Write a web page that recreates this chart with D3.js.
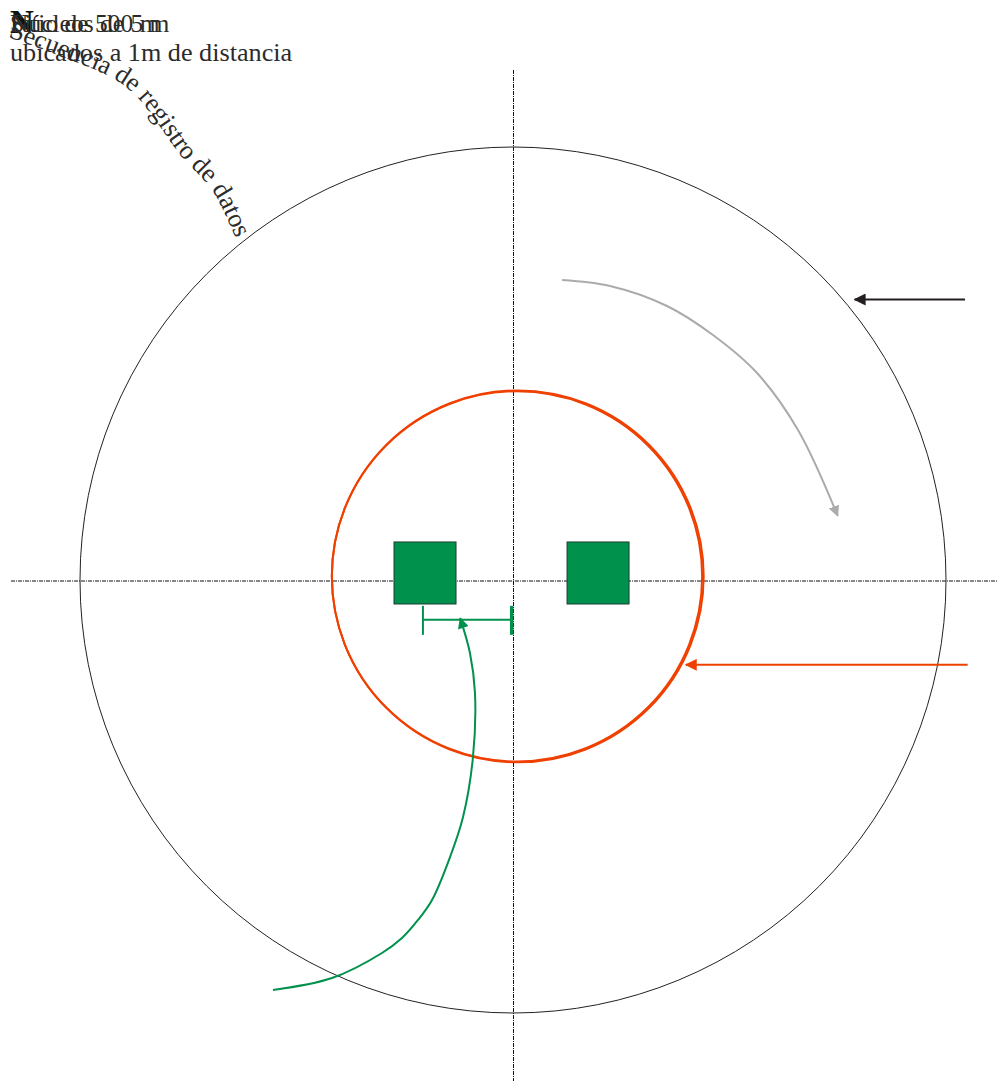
<!DOCTYPE html>
<html>
<head>
<meta charset="utf-8">
<script src="https://cdn.jsdelivr.net/npm/d3@7"></script>
<style>
  html, body { margin: 0; padding: 0; background: #fff; }
  svg { display: block; }
  text { font-family: "Liberation Serif", serif; fill: #2b2b2b; }
</style>
</head>
<body>
<svg id="chart" width="997" height="1081"></svg>
<script>
// Plot layout in metres, the centre of the site is 0,0

const outerRadius = 50;
const coreRings = [
  {cx: 0.46, cy: 0.42, r: 21.38},
  {cx: 0.55, cy: 0.42, r: 21.47}
];
const squareCentres = [[-10.16, 0.81], [9.82, 0.81]];
const squareSide = 7.16;

const rotationPath = [[5.66, 34.64], [11.2, 33.95], [17.78, 31.64], [23.09, 28.29], [28.18, 23.9], [32.91, 17.32], [37.5, 7.4]];
const accessPath = [[-27.71, -47.34], [-20.9, -45.96], [-15.13, -43.07], [-12.82, -41.34], [-10.97, -39.26], [-9.35, -36.95],
  [-7.27, -31.99], [-5.77, -27.37], [-4.62, -20.44], [-4.39, -13.05], [-4.97, -8.43], [-6.1, -4.4]];
const labelPath = [[-58.31, 62.7], [-52.3, 60.5], [-46.3, 57.97], [-43.42, 55.77], [-38.22, 48.85], [-34.76, 45.03], [-32.33, 40.18], [-31, 37]];

const outerPointer = [[52.2, 32.39], [39.45, 32.39]];
const corePointer = [[52.5, -9.8], [19.95, -9.8]];
const spacing = [-10.4, -0.15];
const spacingY = -4.6;

const titleLines = ["Sitio de 500 m", "Núcleos de 5 m"];
const northLabel = "N";
const subtitle = "ubicados a 1m de distancia";
const curvedLabel = "Secuencia de registro de datos";

const svg = d3.select("#chart");

const x = d3.scaleLinear().domain([-50, 50]).range([80, 946]);
const y = d3.scaleLinear().domain([-50, 50]).range([1013, 147]);
const size = d3.scaleLinear().domain([0, 100]).range([0, 866]);

const line = d3.line().x(d => x(d[0])).y(d => y(d[1])).curve(d3.curveCatmullRom);

const orange = "#f04000";
const green = "#00914c";
const grey = "#ababab";
const black = "#231f20";

// Arrow heads, one per colour

const defs = svg.append("defs");
[["orange", orange, 13, 12], ["green", green, 12, 11], ["grey", grey, 11, 12], ["black", black, 12, 12]].forEach(([id, colour, w, h]) => {
  defs.append("marker")
    .attr("id", "head-" + id)
    .attr("markerUnits", "userSpaceOnUse")
    .attr("viewBox", "0 0 12 12")
    .attr("refX", 11)
    .attr("refY", 6)
    .attr("markerWidth", w)
    .attr("markerHeight", h)
    .attr("orient", "auto")
    .append("path")
    .attr("d", "M0,0L12,6L0,12Z")
    .attr("fill", colour);
});

// Dash-dot centre lines

const centreStyle = sel => sel
  .attr("stroke", "#111")
  .attr("stroke-width", 1)
  .attr("stroke-dasharray", "4 1 1 1");

svg.append("line")
  .attr("x1", 11).attr("x2", 997)
  .attr("y1", y(0) + 1).attr("y2", y(0) + 1)
  .call(centreStyle);

svg.append("line")
  .attr("x1", x(0) + 0.5).attr("x2", x(0) + 0.5)
  .attr("y1", 70).attr("y2", 1081)
  .call(centreStyle);

// Site boundary

svg.append("circle")
  .attr("cx", x(0))
  .attr("cy", y(0))
  .attr("r", size(outerRadius))
  .attr("fill", "none")
  .attr("stroke", "#222")
  .attr("stroke-width", 1);

svg.selectAll(".core")
  .data(coreRings)
  .enter()
  .append("circle")
  .attr("class", "core")
  .attr("cx", d => x(d.cx))
  .attr("cy", d => y(d.cy))
  .attr("r", d => size(d.r))
  .attr("fill", "none")
  .attr("stroke", orange)
  .attr("stroke-width", 2);

svg.selectAll(".square")
  .data(squareCentres)
  .enter()
  .append("rect")
  .attr("class", "square")
  .attr("x", d => x(d[0] - squareSide / 2))
  .attr("y", d => y(d[1] + squareSide / 2))
  .attr("width", size(squareSide))
  .attr("height", size(squareSide))
  .attr("fill", green)
  .attr("stroke", "#1d3d30")
  .attr("stroke-width", 1);

// Distance between a core and the centre

svg.append("line")
  .attr("x1", x(spacing[0])).attr("x2", x(spacing[1]))
  .attr("y1", y(spacingY)).attr("y2", y(spacingY))
  .attr("stroke", green)
  .attr("stroke-width", 2);

svg.append("line")
  .attr("x1", x(spacing[0])).attr("x2", x(spacing[0]))
  .attr("y1", y(spacingY) - 14).attr("y2", y(spacingY) + 15)
  .attr("stroke", green)
  .attr("stroke-width", 2);

svg.append("line")
  .attr("x1", x(spacing[1])).attr("x2", x(spacing[1]))
  .attr("y1", y(spacingY) - 14).attr("y2", y(spacingY) + 15)
  .attr("stroke", green)
  .attr("stroke-width", 3.5);

// Curved arrows

svg.append("path")
  .attr("d", line(rotationPath))
  .attr("fill", "none")
  .attr("stroke", grey)
  .attr("stroke-width", 2)
  .attr("marker-end", "url(#head-grey)");

svg.append("path")
  .attr("d", line(accessPath))
  .attr("fill", "none")
  .attr("stroke", green)
  .attr("stroke-width", 2)
  .attr("marker-end", "url(#head-green)");

// Straight pointers

svg.append("path")
  .attr("d", d3.line().x(d => x(d[0])).y(d => y(d[1]))(outerPointer))
  .attr("fill", "none")
  .attr("stroke", black)
  .attr("stroke-width", 2)
  .attr("marker-end", "url(#head-black)");

svg.append("path")
  .attr("d", d3.line().x(d => x(d[0])).y(d => y(d[1]))(corePointer))
  .attr("fill", "none")
  .attr("stroke", orange)
  .attr("stroke-width", 2)
  .attr("marker-end", "url(#head-orange)");

// Overlapping labels in the corner

svg.append("text")
  .attr("x", 10)
  .attr("y", 33)
  .attr("font-size", 33)
  .attr("font-weight", "bold")
  .style("fill", "#111")
  .text(northLabel);

svg.selectAll(".title")
  .data(titleLines)
  .enter()
  .append("text")
  .attr("class", "title")
  .attr("x", 10)
  .attr("y", 32)
  .attr("font-size", 25.5)
  .text(d => d);

svg.append("text")
  .attr("x", 10)
  .attr("y", 61)
  .attr("font-size", 26.2)
  .text(subtitle);

svg.append("path")
  .attr("id", "label-path")
  .attr("d", line(labelPath))
  .attr("fill", "none");

svg.append("text")
  .attr("font-size", 26.2)
  .append("textPath")
  .attr("href", "#label-path")
  .text(curvedLabel);
</script>
</body>
</html>
